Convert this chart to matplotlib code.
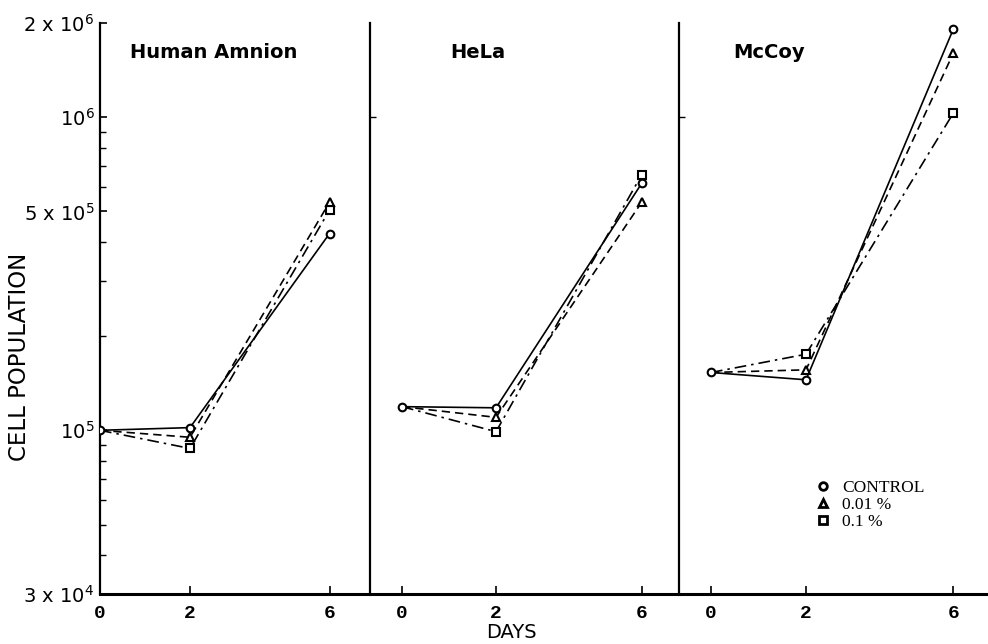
import numpy as np
import matplotlib
matplotlib.use("Agg")
import matplotlib.pyplot as plt
from matplotlib.ticker import FixedLocator, LogLocator, NullFormatter, FixedFormatter
from matplotlib.lines import Line2D

# ---------------- data ----------------
days = [0, 2, 6]
day_labels = ["0", "2", "6"]
panels = ["Human Amnion", "HeLa", "McCoy"]
series_names = ["CONTROL", "0.01 %", "0.1 %"]

amnion_control = [1.00e5, 1.02e5, 4.25e5]
amnion_001 = [1.00e5, 0.95e5, 5.35e5]
amnion_01 = [1.00e5, 0.875e5, 5.05e5]

hela_control = [1.19e5, 1.18e5, 6.15e5]
hela_001 = [1.19e5, 1.10e5, 5.35e5]
hela_01 = [1.19e5, 0.99e5, 6.55e5]

mccoy_control = [1.53e5, 1.45e5, 1.91e6]
mccoy_001 = [1.53e5, 1.56e5, 1.60e6]
mccoy_01 = [1.53e5, 1.75e5, 1.03e6]

ytick_values = [3e4, 1e5, 5e5, 1e6, 2e6]
ytick_labels = [r"3 x 10$^4$", r"10$^5$", r"5 x 10$^5$", r"10$^6$", r"2 x 10$^6$"]

panel_data = [
    [amnion_control, amnion_001, amnion_01],
    [hela_control, hela_001, hela_01],
    [mccoy_control, mccoy_001, mccoy_01],
]

# ---------------- styles ----------------
COMP = 0.775


def fwd(x):
    x = np.asarray(x, dtype=float)
    return np.where(x <= 2, x, 2 + (x - 2) * COMP)


def inv(u):
    u = np.asarray(u, dtype=float)
    return np.where(u <= 2, u, 2 + (u - 2) / COMP)


styles = [
    dict(ls="-", marker="o"),
    dict(ls=(0, (5, 3)), marker="^"),
    dict(ls=(0, (7, 3, 1.5, 3)), marker="s"),
]

W, H = 988, 644
fig = plt.figure(figsize=(W / 100, H / 100), dpi=100)
fig.patch.set_facecolor("white")

bottom = 1 - 594 / H
top = 1 - 23 / H
height = top - bottom

# (left px, width px, px per unit, left margin px)
geom = [(100, 270, 45.0, 0), (370, 309, 47.0, 32), (679, 309, 47.5, 32)]
title_x = [130, 450, 733]

axes = []
for i, (lpx, wpx, ppu, mpx) in enumerate(geom):
    ax = fig.add_axes([lpx / W, bottom, wpx / W, height])
    ax.set_xscale("function", functions=(fwd, inv))
    ax.set_yscale("log")
    ax.set_ylim(3e4, 2e6)
    lo = -mpx / ppu
    hi = (wpx - mpx) / ppu
    ax.set_xlim(float(inv(lo)), float(inv(hi)))
    for sp in ["top", "right"]:
        ax.spines[sp].set_visible(False)
    ax.spines["left"].set_linewidth(1.6)
    ax.spines["bottom"].set_linewidth(2.2)

    data = panel_data[i]
    for j, (vals, st) in enumerate(zip(data, styles)):
        mev = [0, 1, 2] if j == 0 else [1, 2]
        ax.plot(days, vals, color="black", lw=1.2, ls=st["ls"],
                marker=st["marker"], markevery=mev, ms=5.5,
                mfc="white", mec="black", mew=1.5, zorder=3 + (2 - j))

    ax.xaxis.set_major_locator(FixedLocator(days))
    ax.xaxis.set_major_formatter(FixedFormatter(day_labels))
    ax.xaxis.set_minor_locator(FixedLocator([]))
    ax.tick_params(axis="x", which="major", direction="in", length=6, width=1.2,
                   pad=8, labelsize=14)
    for lab in ax.get_xticklabels():
        lab.set_fontfamily("Liberation Mono")
        lab.set_fontweight("bold")

    if i == 0:
        ax.yaxis.set_major_locator(FixedLocator(ytick_values))
        ax.yaxis.set_major_formatter(FixedFormatter(ytick_labels))
        ax.yaxis.set_minor_locator(LogLocator(base=10, subs=np.arange(2, 10)))
        ax.yaxis.set_minor_formatter(NullFormatter())
        ax.tick_params(axis="y", which="major", direction="in", length=5,
                       width=1.2, pad=4, labelsize=14)
        ax.tick_params(axis="y", which="minor", direction="in", length=4,
                       width=1.0)
    else:
        ax.yaxis.set_major_locator(FixedLocator([1e6]))
        ax.yaxis.set_major_formatter(NullFormatter())
        ax.yaxis.set_minor_locator(FixedLocator([]))
        ax.tick_params(axis="y", which="major", direction="in", length=4,
                       width=1.0)

    fig.text(title_x[i] / W, 1 - 53 / H, panels[i], ha="left", va="center",
             fontsize=14, fontweight="bold", family="DejaVu Sans")
    axes.append(ax)

fig.text(20 / W, 1 - 357 / H, "CELL POPULATION", rotation=90, ha="center",
         va="center", fontsize=16.5, family="DejaVu Sans")
fig.text(511 / W, 1 - 633 / H, "DAYS", ha="center", va="center", fontsize=14,
         family="DejaVu Sans")

handles = [Line2D([], [], ls="none", marker=st["marker"], ms=5.5, mfc="white",
                  mec="black", mew=2.0) for st in styles]
leg = fig.legend(handles, series_names, loc="upper left",
                 bbox_to_anchor=(806 / W, 1 - 471 / H), frameon=False,
                 handlelength=1.0, handletextpad=0.6, labelspacing=0.05,
                 borderpad=0, prop=dict(family="Liberation Serif", size=12.5))

fig.savefig("out.png", dpi=100, facecolor="white")
